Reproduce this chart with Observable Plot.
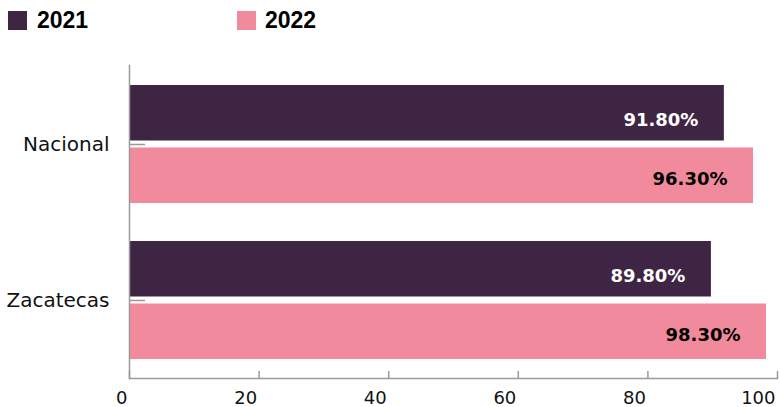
<!DOCTYPE html>
<html><head><meta charset="utf-8">
<script src="https://cdn.jsdelivr.net/npm/d3@7"></script>
<script src="https://cdn.jsdelivr.net/npm/@observablehq/plot@0.6"></script>
<style>
body{margin:0;background:#fff;}
#legend{position:relative;height:40px;width:780px;font-family:"Liberation Sans",Arial,sans-serif;font-weight:bold;font-size:23px;color:#000;}
.sw{position:absolute;width:19px;height:19px;top:11px;}
.lb{position:absolute;top:8px;line-height:25px;}
</style></head>
<body>
<div id="legend"></div>
<div id="chart"></div>
<script>
const categories = ["Nacional", "Zacatecas"];
const years = ["2021", "2022"];
const values2021 = [91.8, 89.8];
const values2022 = [96.3, 98.3];
const xTicks = [0, 20, 40, 60, 80, 100];
const colors = ["#3e2543", "#f08a9c"];
const labelColors = ["#ffffff", "#000000"];

const rows = [];
categories.forEach((c, i) => {
  rows.push({category: c, year: years[0], value: values2021[i]});
  rows.push({category: c, year: years[1], value: values2022[i]});
});

// legend
const legend = document.getElementById("legend");
const swLeft = [8, 237], lbLeft = [37, 265];
years.forEach((y, i) => {
  const s = document.createElement("div");
  s.className = "sw"; s.style.left = swLeft[i] + "px"; s.style.background = colors[i];
  legend.appendChild(s);
  const t = document.createElement("div");
  t.className = "lb"; t.style.left = lbLeft[i] + "px"; t.textContent = y;
  legend.appendChild(t);
});

const axisColor = "#9a9a9a";
const fmt = d => d.value.toFixed(2) + "%";

const chart = Plot.plot({
  width: 780,
  height: 367,
  marginLeft: 129,
  marginRight: 3,
  marginTop: 25,
  marginBottom: 29,
  style: {fontFamily: "DejaVu Sans", background: "#fff"},
  x: {domain: [0, 100]},
  y: {domain: categories, paddingInner: 0.244, paddingOuter: 0.122},
  color: {domain: years, range: colors},
  marks: [
    Plot.barX(rows.filter(d => d.year === years[0]), {x: "value", y: "category", fill: "year", insetBottom: 62.5}),
    Plot.barX(rows.filter(d => d.year === years[1]), {x: "value", y: "category", fill: "year", insetTop: 62.5}),
    Plot.text(rows.filter(d => d.year === years[0]), {x: "value", y: "category", text: fmt, textAnchor: "end", dx: -26, dy: -24, fill: labelColors[0], fontWeight: "bold", fontSize: 18}),
    Plot.text(rows.filter(d => d.year === years[1]), {x: "value", y: "category", text: fmt, textAnchor: "end", dx: -26, dy: 35, fill: labelColors[1], fontWeight: "bold", fontSize: 18}),
    Plot.frame({anchor: "left", stroke: axisColor, strokeWidth: 1.5}),
    Plot.frame({anchor: "bottom", stroke: axisColor, strokeWidth: 1.5}),
    Plot.axisY({tickSize: 0, tickPadding: 20, fontSize: 20, fill: "#111", label: null}),
    Plot.axisY({tickSize: 16, dx: 16, stroke: "#999", strokeWidth: 1.5, tickFormat: () => "", label: null}),
    Plot.axisX({ticks: xTicks, tickSize: 7, dy: -7, stroke: axisColor, strokeWidth: 1.5, tickFormat: () => "", label: null}),
    Plot.axisX({ticks: xTicks, tickSize: 0, tickPadding: 13, textAnchor: "end", dx: -2, fontSize: 18, fill: "#111", label: null})
  ]
});
document.getElementById("chart").appendChild(chart);
</script>
</body></html>
